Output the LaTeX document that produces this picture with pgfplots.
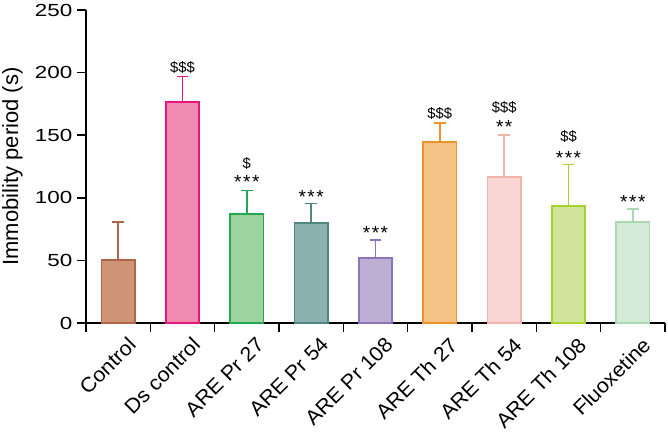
\documentclass[border=0pt]{standalone}
\usepackage{pgfplots}
\pgfplotsset{compat=1.18}
\usepackage{fontspec}
\setmainfont{Liberation Sans}
\newfontfamily\tickfont{Liberation Sans}[FakeStretch=1.28]
\newfontfamily\catfont{Liberation Sans}[FakeStretch=1.05]
\definecolor{f1}{HTML}{CD9576}\definecolor{e1}{HTML}{B0654A}
\definecolor{f2}{HTML}{F08AAE}\definecolor{e2}{HTML}{E8157F}
\definecolor{f3}{HTML}{9ED3A0}\definecolor{e3}{HTML}{1FA84F}
\definecolor{f4}{HTML}{8CB2AF}\definecolor{e4}{HTML}{4E877F}
\definecolor{f5}{HTML}{BDAED4}\definecolor{e5}{HTML}{8E73BA}
\definecolor{f6}{HTML}{F5C285}\definecolor{e6}{HTML}{F0922A}
\definecolor{f7}{HTML}{F9D6D3}\definecolor{e7}{HTML}{F4B3AD}
\definecolor{f8}{HTML}{D2E39A}\definecolor{e8}{HTML}{A6D22E}
\definecolor{f9}{HTML}{D3EAD6}\definecolor{e9}{HTML}{A9D8B2}
\begin{document}
\begin{tikzpicture}
\begin{axis}[name=ax,
  scale only axis, width=579pt, height=313pt,
  xmin=-0.5, xmax=8.5, ymin=0, ymax=250,
  axis x line*=bottom, axis y line*=left,
  axis line style={line width=1.8pt, black},
  ytick={0,50,...,250},
  xtick={0,...,8},
  xticklabels={Control, Ds control, ARE Pr 27, ARE Pr 54, ARE Pr 108, ARE Th 27, ARE Th 54, ARE Th 108, Fluoxetine},
  minor xtick={-0.5,0.5,...,8.5},
  major x tick style={draw=none},
  minor x tick style={line width=1.6pt, black},
  ytick style={line width=1.6pt, black},
  tick align=outside, major tick length=8.5pt, minor tick length=8.5pt,
  /pgf/number format/assume math mode=true,
  yticklabel style={font=\tickfont\fontsize{17.5}{20}\selectfont, inner sep=0pt, xshift=-5pt},
  xticklabel style={font=\catfont\fontsize{20.5}{23}\selectfont, rotate=45, anchor=north east, inner sep=0pt, xshift=3pt, yshift=-9pt},
  ylabel={Immobility period (s)},
  ylabel style={font=\fontsize{22}{24}\selectfont, at={(axis description cs:0,0.5)}, anchor=north, inner sep=0pt, yshift=84pt},
  ybar, bar width=0.52, bar shift=0,
  error bars/y dir=plus, error bars/y explicit,
  error bars/error mark options={rotate=90, mark size=5.8pt, line width=1.8pt},
  clip=false,
]
\addplot[fill=f1, draw=e1, line width=1.8pt, error bars/error bar style={e1, line width=1.8pt}] coordinates {(0,50.5) +- (0,30.4)};
\addplot[fill=f2, draw=e2, line width=1.8pt, error bars/error bar style={e2, line width=1.8pt}] coordinates {(1,176.4) +- (0,20.5)};
\addplot[fill=f3, draw=e3, line width=1.8pt, error bars/error bar style={e3, line width=1.8pt}] coordinates {(2,86.8) +- (0,19.1)};
\addplot[fill=f4, draw=e4, line width=1.8pt, error bars/error bar style={e4, line width=1.8pt}] coordinates {(3,79.9) +- (0,15.6)};
\addplot[fill=f5, draw=e5, line width=1.8pt, error bars/error bar style={e5, line width=1.8pt}] coordinates {(4,51.7) +- (0,14.9)};
\addplot[fill=f6, draw=e6, line width=1.8pt, error bars/error bar style={e6, line width=1.8pt}] coordinates {(5,144.6) +- (0,14.9)};
\addplot[fill=f7, draw=e7, line width=1.8pt, error bars/error bar style={e7, line width=1.8pt}] coordinates {(6,116.5) +- (0,33.4)};
\addplot[fill=f8, draw=e8, line width=1.8pt, error bars/error bar style={e8, line width=1.8pt}] coordinates {(7,93.2) +- (0,33.4)};
\addplot[fill=f9, draw=e9, line width=1.8pt, error bars/error bar style={e9, line width=1.8pt}] coordinates {(8,80.9) +- (0,9.9)};
% annotations: stars
\addplot[only marks, mark=none, nodes near coords, point meta=explicit symbolic,
  every node near coord/.append style={anchor=center, font=\fontsize{19}{19}\selectfont, inner sep=0pt}]
  table[meta=label] {
x y label
2 112.5 {*\hspace{1.5pt}*\hspace{1.5pt}*}
3 101.0 {*\hspace{1.5pt}*\hspace{1.5pt}*}
4 72.3 {*\hspace{1.5pt}*\hspace{1.5pt}*}
6 156.5 {*\hspace{1.5pt}*}
7 132.0 {*\hspace{1.5pt}*\hspace{1.5pt}*}
8 97.0 {*\hspace{1.5pt}*\hspace{1.5pt}*}
};
% annotations: dollars
\addplot[only marks, mark=none, nodes near coords, point meta=explicit symbolic,
  every node near coord/.append style={anchor=center, font=\fontsize{14.8}{15}\selectfont, inner sep=0pt}]
  table[meta=label] {
x y label
1 204.4 {\$\$\$}
2 127.7 {\$}
5 167.3 {\$\$\$}
6 172.3 {\$\$\$}
7 148.7 {\$\$}
};
\end{axis}
\pgfresetboundingbox
\path[use as bounding box] ([xshift=-86pt,yshift=-111pt]ax.south west) rectangle ([xshift=3pt,yshift=10pt]ax.north east);
\end{tikzpicture}
\end{document}
